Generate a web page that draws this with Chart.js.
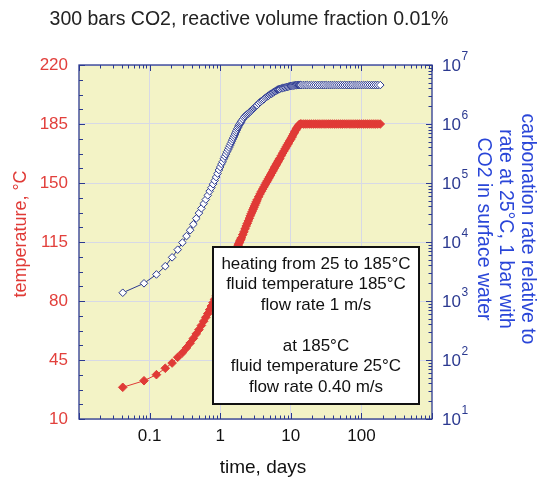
<!DOCTYPE html>
<html>
<head>
<meta charset="utf-8">
<script src="https://cdn.jsdelivr.net/npm/chart.js@4.4.1/dist/chart.umd.min.js"></script>
<style>
  html, body { margin: 0; padding: 0; background: #fff; }
  #chart { display: block; }
</style>
</head>
<body>
<canvas id="chart" width="538" height="479"></canvas>
<script>
// sample times (hours after start)
const hours = [
  1, 2, 3, 4, 5, 6, 7, 8, 9, 10, 11, 12,
  13, 14, 15, 16, 17, 18, 19, 20, 21, 22, 23, 24,
  25, 26, 27, 28, 29, 30, 31, 32, 33, 34, 35, 36,
  37, 38, 39, 40, 41, 42, 43, 44, 45, 46, 47, 48,
  50, 52, 54, 56, 58, 60, 62, 64, 66, 68, 70, 72, 74, 76, 78, 80,
  84, 88, 92, 96, 100, 104, 108, 112, 116, 120, 124, 128, 132, 136, 140, 144, 148, 152, 156, 160, 164, 168,
  176, 184, 192, 200, 208, 216, 224, 232, 240, 248, 256, 264, 272, 280, 288, 296, 304, 312, 320, 328,
  336, 360, 385, 410, 440, 470, 505, 540, 580, 620,
  665, 710, 760, 815, 870, 930, 995, 1065, 1140, 1220,
  1305, 1395, 1495, 1600, 1710, 1830, 1960, 2095, 2240, 2400,
  2570, 2750, 2940, 3150, 3370, 3600, 3850, 4120, 4440
];

// temperature, °C (left axis)
const temperature = [
  28.8, 32.7, 36.3, 40.1, 43.2, 46.6, 49.3, 52.2, 55.0, 57.8, 60.5, 63.0,
  65.5, 68.0, 70.3, 72.5, 74.8, 77.0, 79.0, 81.0, 83.0, 85.0, 86.8, 88.5,
  90.3, 92.0, 93.6, 95.1, 96.6, 98.0, 99.4, 100.7, 102.0, 103.2, 104.4, 105.5,
  106.7, 107.8, 108.9, 110.0, 111.0, 112.0, 113.0, 114.0, 114.9, 115.8, 116.7, 117.5,
  119.3, 121.0, 122.8, 124.5, 126.0, 127.5, 129.0, 130.5, 131.8, 133.0, 134.3, 135.5, 136.7, 137.8, 138.9, 140.0,
  141.8, 143.5, 145.0, 146.4, 147.7, 149.0, 150.3, 151.4, 152.6, 153.7, 154.7, 155.8, 156.8, 157.8, 158.8, 159.7, 160.6, 161.4, 162.3, 163.1, 163.9, 164.7,
  166.2, 167.7, 169.0, 170.3, 171.6, 172.8, 173.9, 175.0, 176.0, 177.1, 178.2, 179.3, 180.3, 181.2, 182.1, 182.9, 183.7, 184.3, 184.8, 185.0,
  185, 185, 185, 185, 185, 185, 185, 185, 185, 185,
  185, 185, 185, 185, 185, 185, 185, 185, 185, 185,
  185, 185, 185, 185, 185, 185, 185, 185, 185, 185,
  185, 185, 185, 185, 185, 185, 185, 185, 185
];

// carbonation rate, read as powers of ten off the right (log) axis
const rateLog10 = [
  3.14, 3.30, 3.45, 3.59, 3.74, 3.87, 3.99, 4.10, 4.20, 4.30, 4.40, 4.49,
  4.57, 4.65, 4.72, 4.79, 4.86, 4.92, 4.98, 5.04, 5.10, 5.16, 5.22, 5.27,
  5.32, 5.36, 5.41, 5.45, 5.49, 5.53, 5.565, 5.60, 5.635, 5.67, 5.705, 5.74,
  5.77, 5.80, 5.83, 5.86, 5.89, 5.92, 5.945, 5.97, 5.99, 6.01, 6.03, 6.05,
  6.08, 6.11, 6.13, 6.15, 6.165, 6.18, 6.195, 6.21, 6.225, 6.24, 6.255, 6.27, 6.285, 6.30, 6.31, 6.32,
  6.345, 6.37, 6.39, 6.405, 6.42, 6.44, 6.455, 6.47, 6.48, 6.495, 6.505, 6.515, 6.525, 6.535, 6.545, 6.555, 6.565, 6.57, 6.58, 6.585, 6.59, 6.595,
  6.605, 6.61, 6.615, 6.62, 6.625, 6.63, 6.635, 6.64, 6.645, 6.648, 6.65, 6.652, 6.655, 6.657, 6.658, 6.66, 6.66, 6.66, 6.66, 6.66,
  6.66, 6.66, 6.66, 6.66, 6.66, 6.66, 6.66, 6.66, 6.66, 6.66,
  6.66, 6.66, 6.66, 6.66, 6.66, 6.66, 6.66, 6.66, 6.66, 6.66,
  6.66, 6.66, 6.66, 6.66, 6.66, 6.66, 6.66, 6.66, 6.66, 6.66,
  6.66, 6.66, 6.66, 6.66, 6.66, 6.66, 6.66, 6.66, 6.66
];

const xTicks = [0.1, 1, 10, 100];
const tempTicks = [10, 45, 80, 115, 150, 185, 220];
const rateExponents = [1, 2, 3, 4, 5, 6, 7];

const title = '300 bars CO2, reactive volume fraction 0.01%';
const xTitle = 'time, days';
const yTitle = 'temperature, °C';
const y2Title = ['carbonation rate relative to', 'rate at 25°C, 1 bar with', 'CO2 in surface water'];
const noteLines = [
  'heating from 25 to 185°C',
  'fluid temperature 185°C',
  'flow rate 1 m/s',
  '',
  'at 185°C',
  'fluid temperature 25°C',
  'flow rate 0.40 m/s'
];

const FONT = '"Liberation Sans", Arial, Helvetica, sans-serif';
const RED = '#e03a36';
const RED_TEXT = '#e2403c';
const NAVY = '#2b3990';
const BLUE_TEXT = '#2a46d8';
const PLOT_BG = '#f3f3c6';
const GRID = '#d7d9e6';

const tempPoints = hours.map((h, i) => ({ x: h / 24, y: temperature[i] }));
const ratePoints = hours.map((h, i) => ({ x: h / 24, y: Math.pow(10, rateLog10[i]) }));

const decor = {
  id: 'decor',
  beforeDraw(chart) {
    const { ctx, chartArea: a } = chart;
    ctx.save();
    ctx.fillStyle = PLOT_BG;
    ctx.fillRect(a.left, a.top, a.right - a.left, a.bottom - a.top);
    ctx.restore();
  },
  afterDatasetsDraw(chart) {
    const { ctx, chartArea: a, scales } = chart;
    ctx.save();

    // note box
    const bx = 213, by = 247, bw = 206, bh = 157;
    ctx.fillStyle = '#fff';
    ctx.fillRect(bx, by, bw, bh);
    ctx.strokeStyle = '#111';
    ctx.lineWidth = 2;
    ctx.strokeRect(bx, by, bw, bh);
    ctx.fillStyle = '#111';
    ctx.font = '17px ' + FONT;
    ctx.textAlign = 'center';
    ctx.textBaseline = 'middle';
    noteLines.forEach((s, i) => ctx.fillText(s, bx + bw / 2, 264 + i * 20.5));

    // frame
    ctx.strokeStyle = NAVY;
    ctx.lineWidth = 1.3;
    ctx.strokeRect(a.left, a.top, a.right - a.left, a.bottom - a.top);

    // inward ticks
    ctx.lineWidth = 1;
    ctx.beginPath();
    for (let v = 10; v <= 220.001; v += 8.75) {
      const y = Math.round(scales.y.getPixelForValue(v)) + 0.5;
      const len = tempTicks.some(t => Math.abs(t - v) < 0.01) ? 6 : 4;
      ctx.moveTo(a.left, y); ctx.lineTo(a.left + len, y);
    }
    for (let d = 1; d <= 7; d++) {
      for (let m = 1; m <= 9; m++) {
        const v = m * Math.pow(10, d);
        if (v > 1e7) break;
        const y = Math.round(scales.y2.getPixelForValue(v)) + 0.5;
        const len = m === 1 ? 6 : 3.5;
        ctx.moveTo(a.right, y); ctx.lineTo(a.right - len, y);
      }
    }
    for (let d = -2; d <= 3; d++) {
      for (let m = 1; m <= 9; m++) {
        const v = m * Math.pow(10, d);
        if (v > 1000) break;
        const x = Math.round(scales.x.getPixelForValue(v)) + 0.5;
        const len = m === 1 ? 6 : 3.5;
        ctx.moveTo(x, a.bottom); ctx.lineTo(x, a.bottom - len);
        ctx.moveTo(x, a.top); ctx.lineTo(x, a.top + len);
      }
    }
    ctx.stroke();
    ctx.restore();
  },
  afterDraw(chart) {
    const { ctx, scales } = chart;
    ctx.save();

    // right axis labels 10^n
    ctx.fillStyle = NAVY;
    ctx.textAlign = 'left';
    ctx.textBaseline = 'middle';
    rateExponents.forEach(e => {
      const y = scales.y2.getPixelForValue(Math.pow(10, e));
      ctx.font = '17px ' + FONT;
      ctx.fillText('10', 442, y + 1);
      const w = ctx.measureText('10').width;
      ctx.font = '12px ' + FONT;
      ctx.fillText(String(e), 442 + w + 0.5, y - 8);
    });

    // chart title
    ctx.fillStyle = '#222';
    ctx.textAlign = 'center';
    ctx.font = '19.5px ' + FONT;
    ctx.fillText(title, 249, 20);

    // x title
    ctx.fillStyle = '#111';
    ctx.font = '19px ' + FONT;
    ctx.fillText(xTitle, 263, 468);

    // left title
    ctx.save();
    ctx.translate(21, 234);
    ctx.rotate(-Math.PI / 2);
    ctx.fillStyle = RED;
    ctx.font = '18px ' + FONT;
    ctx.fillText(yTitle, 0, 0);
    ctx.restore();

    // right title
    ctx.save();
    ctx.translate(505, 229);
    ctx.rotate(Math.PI / 2);
    ctx.fillStyle = BLUE_TEXT;
    ctx.font = '19.5px ' + FONT;
    y2Title.forEach((s, i) => ctx.fillText(s, 0, (i - 1) * 22));
    ctx.restore();

    ctx.restore();
  }
};

new Chart(document.getElementById('chart'), {
  type: 'line',
  data: {
    datasets: [
      {
        label: 'temperature',
        data: tempPoints,
        yAxisID: 'y',
        borderColor: RED,
        backgroundColor: RED,
        borderWidth: 1,
        pointStyle: 'rectRot',
        pointRadius: 4.3,
        pointBackgroundColor: RED,
        pointBorderColor: RED,
        pointBorderWidth: 1,
        tension: 0
      },
      {
        label: 'carbonation rate',
        data: ratePoints,
        yAxisID: 'y2',
        borderColor: NAVY,
        backgroundColor: '#fff',
        borderWidth: 1,
        pointStyle: 'rectRot',
        pointRadius: 3.8,
        pointBackgroundColor: '#fff',
        pointBorderColor: NAVY,
        pointBorderWidth: 1,
        tension: 0
      }
    ]
  },
  options: {
    responsive: false,
    animation: false,
    devicePixelRatio: 1,
    layout: { padding: { top: 65, left: 0, right: 0, bottom: 0 } },
    plugins: { legend: { display: false }, tooltip: { enabled: false } },
    scales: {
      x: {
        type: 'logarithmic',
        position: 'bottom',
        min: 0.01,
        max: 1000,
        afterBuildTicks: s => { s.ticks = xTicks.map(v => ({ value: v })); },
        afterFit: s => { s.height = 60; },
        grid: { color: GRID, drawTicks: false },
        border: { display: false },
        ticks: {
          color: '#111',
          font: { family: FONT, size: 17 },
          padding: 7,
          autoSkip: false,
          maxRotation: 0,
          callback: v => String(v)
        }
      },
      y: {
        type: 'linear',
        position: 'left',
        min: 10,
        max: 220,
        afterBuildTicks: s => { s.ticks = tempTicks.map(v => ({ value: v })); },
        afterFit: s => { s.width = 79; },
        grid: { color: GRID, drawTicks: false },
        border: { display: false },
        ticks: {
          color: RED_TEXT,
          font: { family: FONT, size: 17 },
          padding: 11
        }
      },
      y2: {
        type: 'logarithmic',
        position: 'right',
        min: 10,
        max: 1e7,
        afterFit: s => { s.width = 106; },
        grid: { display: false },
        border: { display: false },
        ticks: { display: false }
      }
    }
  },
  plugins: [decor]
});
</script>
</body>
</html>
